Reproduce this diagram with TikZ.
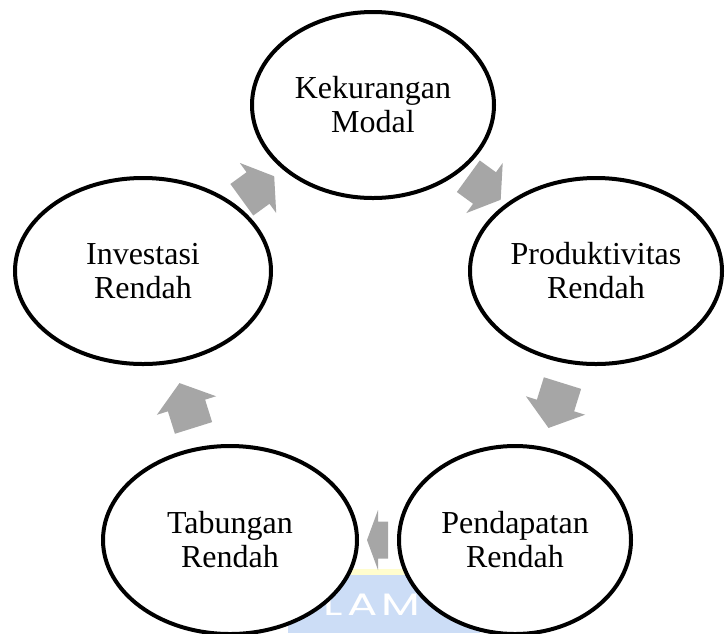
\documentclass[tikz,border=0pt]{standalone}
\usepackage{fontspec}
\setmainfont{Liberation Serif}
\newfontfamily\wmfont{Poppins}
\usetikzlibrary{calc,shapes.geometric}
\definecolor{arrowgray}{RGB}{166,166,166}
\definecolor{wmblue}{RGB}{204,221,246}
\definecolor{wmyellow}{RGB}{255,253,206}
% #1 centre, #2 angle, #3 total length, #4 head length, #5 head half width, #6 body half width
\newcommand\cycarrow[6]{%
  \fill[arrowgray, shift={#1}, rotate=#2]
    ({-#3/2},{-#6}) -- ({#3/2-#4},{-#6}) -- ({#3/2-#4},{-#5}) -- ({#3/2},0)
    -- ({#3/2-#4},{#5}) -- ({#3/2-#4},{#6}) -- ({-#3/2},{#6}) -- cycle;}
\tikzset{
  ell/.style={ellipse, draw=black, fill=white, line width=4pt, inner sep=0pt,
    align=center, font=\fontsize{32}{34}\selectfont},
}
\begin{document}
\begin{tikzpicture}[x=1pt,y=1pt]
\useasboundingbox (0,0) rectangle (725,-633);
\clip (0,0) rectangle (725,-633);
% watermark
\fill[wmyellow] (288,-569) rectangle (475,-575);
\fill[wmblue] (288,-575) rectangle (480,-633);
\node[anchor=base west, inner sep=0pt, text=white, xscale=1.45,
  font=\wmfont\fontsize{31}{31}\selectfont\addfontfeatures{LetterSpace=10}] (wm) at (323,-615) {LAM};
% ellipses
\node[ell, minimum width=242, minimum height=186] (kek) at (373,-105) {Kekurangan\\Modal};
\node[ell, minimum width=252, minimum height=186] (pro) at (596,-271) {Produktivitas\\Rendah};
\node[ell, minimum width=232, minimum height=188] (pen) at (515,-540) {Pendapatan\\Rendah};
\node[ell, minimum width=254, minimum height=188] (tab) at (230,-540) {Tabungan\\Rendah};
\node[ell, minimum width=256, minimum height=186] (inv) at (143,-271) {Investasi\\Rendah};
% cycle arrows
\cycarrow{($(inv)!0.5!(kek)$)}{36}{40}{20}{31}{19.5}
\cycarrow{($(kek)!0.5!(pro)$)}{-36}{40}{20}{31}{19.5}
\cycarrow{($(pro)!0.5!(pen)$)}{-107.3}{47}{23.5}{31}{19.5}
\cycarrow{($(pen)!0.5!(tab)+(5,0)$)}{180}{21}{11}{30}{18.5}
\cycarrow{($(tab)!0.5!(inv)$)}{107.4}{47}{23.5}{31}{19.5}
\end{tikzpicture}
\end{document}
